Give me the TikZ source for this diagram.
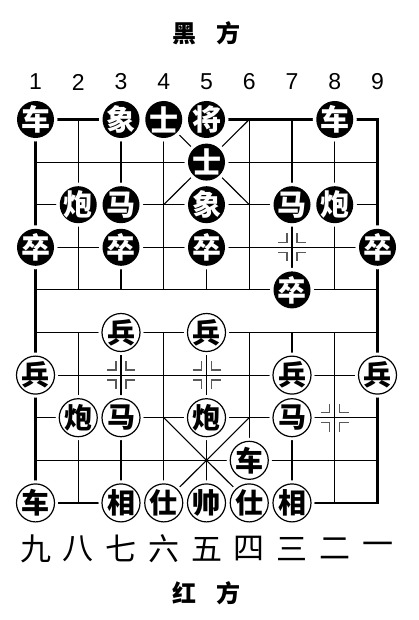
\documentclass[tikz,border=0pt]{standalone}
\usepackage{fontspec}
\setmainfont{Liberation Sans}
\newfontfamily\cjk{Noto Sans CJK SC}

\tikzset{
	heiqi/.style={circle, minimum size=37pt, inner sep=-4pt, fill=black, text=white,
		font=\cjk\bfseries\fontsize{29}{29}\selectfont,
		preaction={draw=white, line width=7pt}},
	hongqi/.style={circle, minimum size=38pt, inner sep=-4pt, fill=white, draw=black, line width=1.2pt,
		font=\cjk\bfseries\fontsize{28}{28}\selectfont,
		preaction={draw=white, line width=7pt}},
	gridline/.style={line width=1.1pt},
	border/.style={line width=2.5pt},
}

\newcommand{\posmark}[1]{
	\begin{scope}[shift={(#1)}, x=1pt, y=1pt]
		\foreach \sx/\sy in {1/1,1/-1,-1/1,-1/-1}
			\draw[black!65, line width=1.3pt] (\sx*14,\sy*5) -- (\sx*5,\sy*5) -- (\sx*5,\sy*14);
	\end{scope}
}

\begin{document}
\begin{tikzpicture}[x=1pt, y=-1pt]
	\useasboundingbox (0,0) rectangle (419,620);
	
	\node (heifang) at (206.5,33) {\cjk\bfseries\fontsize{24}{24}\selectfont 黑\hspace{0.8em}方};
	\node (hongfang) at (206.5,593) {\cjk\bfseries\fontsize{24}{24}\selectfont 红\hspace{0.8em}方};
	
	\begin{scope}[shift={(35.5,119.5)}, x=42.75pt, y=-42.6pt]
		% board
		\foreach \r in {1,...,8}
			\draw[gridline] (0,\r) -- (8,\r);
		\foreach \c in {1,...,7} {
			\draw[gridline] (\c,0) -- (\c,4);
			\draw[gridline] (\c,5) -- (\c,9);
		}
		\draw[gridline] (3,0) -- (5,2) (5,0) -- (3,2);
		\draw[gridline] (3,7) -- (5,9) (5,7) -- (3,9);
		\draw[border] (0,0) rectangle (8,9);
		
		\posmark{6,3}
		\posmark{2,6}
		\posmark{4,6}
		\posmark{7,7}
		
		% numbers
		\foreach \n in {1,...,9}
			\node[font=\fontsize{23}{23}\selectfont] (top\n) at (\n-1,-0.88) {\n};
		\foreach \t [count=\i] in {九,八,七,六,五,四,三,二,一}
			\node[font=\cjk\fontsize{31}{31}\selectfont] (bot\i) at (\i-1,10.08) {\t};
		
		% black pieces
		\foreach \c/\r/\t [count=\i] in {0/0/车, 2/0/象, 3/0/士, 4/0/将, 7/0/车,
				4/1/士, 1/2/炮, 2/2/马, 4/2/象, 6/2/马, 7/2/炮,
				0/3/卒, 2/3/卒, 4/3/卒, 8/3/卒, 6/4/卒}
			\node[heiqi] (b\i) at (\c,\r) {\t};
		
		% red pieces
		\foreach \c/\r/\t [count=\i] in {2/5/兵, 4/5/兵, 0/6/兵, 6/6/兵, 8/6/兵,
				1/7/炮, 2/7/马, 4/7/炮, 6/7/马, 5/8/车,
				0/9/车, 2/9/相, 3/9/仕, 4/9/帅, 5/9/仕, 6/9/相}
			\node[hongqi] (r\i) at (\c,\r) {\t};
	\end{scope}
\end{tikzpicture}
\end{document}
